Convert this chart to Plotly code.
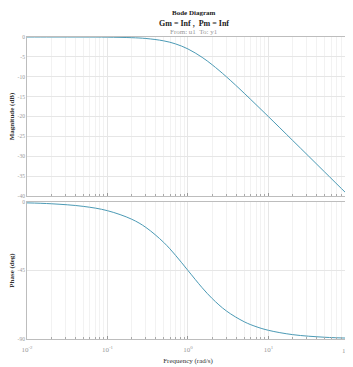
import plotly.graph_objects as go

freq = [0.01, 0.02, 0.05, 0.1, 0.2, 0.3, 0.5, 0.7, 1, 1.5, 2, 3, 5, 7, 10, 20, 50, 100]
magnitude_db = [0.0, -0.002, -0.011, -0.043, -0.17, -0.37, -0.97, -1.73, -3.01, -5.12, -6.99,
                -10.0, -14.15, -17.0, -20.04, -26.03, -33.98, -40.0]
phase_deg = [-0.57, -1.15, -2.86, -5.71, -11.31, -16.7, -26.57, -34.99, -45.0, -56.31, -63.43,
             -71.57, -78.69, -81.87, -84.29, -87.14, -88.85, -89.43]

x_tickvals = [0.01, 0.1, 1, 10, 100]
x_ticktext = ["10<sup>-2</sup>", "10<sup>-1</sup>", "10<sup>0</sup>", "10<sup>1</sup>", "10<sup>2</sup>"]
mag_ticks = [0, -5, -10, -15, -20, -25, -30, -35, -40]
mag_ticktext = ["0", "-5", "-10", "-15", "-20", "-25", "-30", "-35", "-40"]
phase_ticks = [0, -45, -90]
phase_ticktext = ["0", "-45", "-90"]

minor_vals = [m * d for d in [0.01, 0.1, 1, 10] for m in range(2, 10)]

line_color = "#4b9ab5"
font = "Liberation Serif"

fig = go.Figure()
fig.add_trace(go.Scatter(x=freq, y=magnitude_db, mode="lines", line=dict(color=line_color, width=1, shape="spline"),
                         xaxis="x", yaxis="y", showlegend=False))
fig.add_trace(go.Scatter(x=freq, y=phase_deg, mode="lines", line=dict(color=line_color, width=1, shape="spline"),
                         xaxis="x2", yaxis="y2", showlegend=False))

grid = "#e6e6e6"
minor_grid = "#f2f2f2"
axline = "#bdbdbd"
common_x = dict(type="log", range=[-2, 2.0005], tickvals=x_tickvals, showgrid=True, gridcolor=grid, gridwidth=1,
                showline=True, linecolor=axline, mirror=True, ticks="inside", ticklen=3, tickcolor="#999",
                minor=dict(tickvals=minor_vals, showgrid=True, gridcolor=minor_grid, ticks="inside", ticklen=2,
                           tickcolor="#aaa"),
                zeroline=False, automargin=False, ticklabeloverflow="allow")
common_y = dict(showgrid=True, gridcolor=grid, showline=True, linecolor=axline, mirror=True, zeroline=False,
                ticks="", tickfont=dict(size=5.5, color="#999", family=font), automargin=False)

# page body has an 8px margin; figure size/margins compensate so the plot area lands where the reference has it
fig.update_layout(
    width=345, height=359,
    margin=dict(l=19, r=4, t=29, b=28),
    paper_bgcolor="white", plot_bgcolor="white",
    font=dict(family=font, size=7, color="#333"),
    xaxis=dict(common_x, domain=[0, 1], anchor="y", showticklabels=False),
    yaxis=dict(common_y, domain=[0.4735, 1], range=[-40, 0], tickvals=mag_ticks, ticktext=mag_ticktext,
               title=dict(text="<b>Magnitude (dB)</b>", font=dict(size=7, color="#333", family=font), standoff=3)),
    xaxis2=dict(common_x, domain=[0, 1], anchor="y2", ticktext=x_ticktext[:-1] + [""],
                tickfont=dict(size=7, color="#999", family=font), ticklabelstandoff=4,
                title=dict(text="Frequency (rad/s)", font=dict(size=7, color="#333", family=font), standoff=4)),
    yaxis2=dict(common_y, domain=[0, 0.4536], range=[-90, 0], tickvals=phase_ticks, ticktext=phase_ticktext,
                title=dict(text="<b>Phase (deg)</b>", font=dict(size=7, color="#333", family=font), standoff=3)),
)
# last x tick label sits right at the page edge; draw it explicitly so it is not dropped
fig.add_annotation(text=x_ticktext[-1], x=1, y=0, xref="paper", yref="paper", xanchor="center", yanchor="top",
                   yshift=-5, xshift=-2, showarrow=False, font=dict(size=7, color="#999", family=font))
fig.add_annotation(text="<b>Bode Diagram</b>", x=0.52, y=1, xref="paper", yref="paper", yanchor="middle",
                   showarrow=False, yshift=24, font=dict(size=7, color="#222", family=font))
fig.add_annotation(text="<b>Gm = Inf ,  Pm = Inf</b>", x=0.52, y=1, xref="paper", yref="paper", yanchor="middle",
                   showarrow=False, yshift=14, font=dict(size=8, color="#222", family=font))
fig.add_annotation(text="From: u1  To: y1", x=0.52, y=1, xref="paper", yref="paper", yanchor="middle",
                   showarrow=False, yshift=5, font=dict(size=7, color="#999", family=font))

fig.write_html("out.html")
